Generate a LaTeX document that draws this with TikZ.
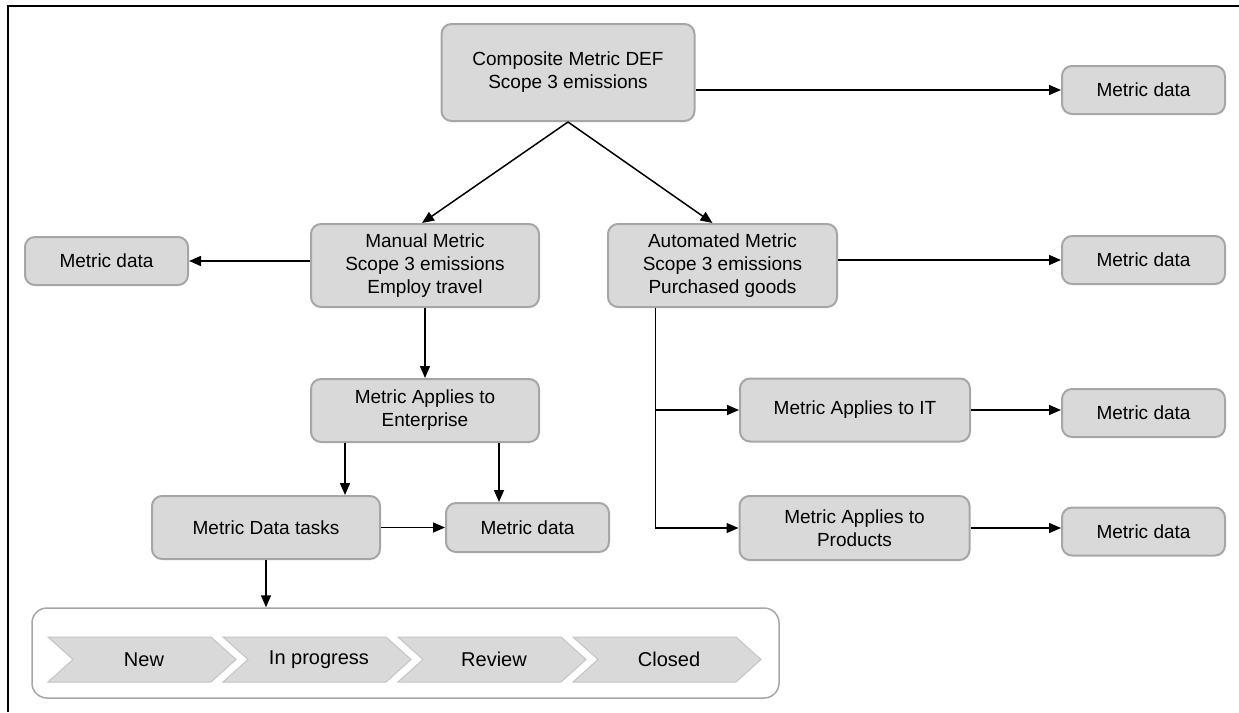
\documentclass[tikz,border=0pt]{standalone}
\usepackage{fontspec}
\setmainfont{Liberation Sans}
\usetikzlibrary{arrows.meta,calc}
\definecolor{boxfill}{HTML}{D9D9D9}
\definecolor{boxline}{HTML}{A6A6A6}
\definecolor{chevline}{HTML}{C4C4C4}
\begin{document}
\begin{tikzpicture}[x=1pt,y=-1pt,
  box/.style={draw=boxline,fill=boxfill,line width=2pt,rounded corners=10pt,
    inner sep=0pt,align=center,font=\fontsize{19}{23}\selectfont},
  arr/.style={line width=1.5pt,-{Triangle[length=12pt,width=10pt]}},
  plain/.style={line width=1.5pt},
  chev/.style={draw=chevline,fill=boxfill,line width=1pt},
  chevtext/.style={font=\fontsize{20}{24}\selectfont,inner sep=0pt}]
\useasboundingbox (0,0) rectangle (1239,712);
% frame
\draw[line width=1.5pt] (8,712) -- (8,6) -- (1239,6);

\node[box,minimum width=253pt,minimum height=97pt] (comp) at (568,72.5) {Composite Metric DEF\\Scope 3 emissions};
\node[box,minimum width=163pt,minimum height=48pt] (md1) at (1143.5,90) {Metric data};
\node[box,minimum width=228pt,minimum height=83pt] (manual) at (425,265.5) {Manual Metric\\Scope 3 emissions\\Employ travel};
\node[box,minimum width=229pt,minimum height=83pt] (auto) at (722.5,265.5) {Automated Metric\\Scope 3 emissions\\Purchased goods};
\node[box,minimum width=163pt,minimum height=48pt] (mdL) at (106.5,261) {Metric data};
\node[box,minimum width=163pt,minimum height=48pt] (md2) at (1143.5,260) {Metric data};
\node[box,minimum width=228pt,minimum height=63pt] (ent) at (425,410.5) {Metric Applies to\\Enterprise};
\node[box,minimum width=228pt,minimum height=63pt] (tasks) at (266,527.5) {Metric Data tasks};
\node[box,minimum width=163pt,minimum height=49pt] (mdM) at (527.5,527.5) {Metric data};
\node[box,minimum width=230pt,minimum height=63pt] (it) at (855,410) {Metric Applies to IT};
\node[box,minimum width=163pt,minimum height=48pt] (mdIT) at (1143.5,413) {Metric data};
\node[box,minimum width=230pt,minimum height=64pt] (prod) at (854.5,528) {Metric Applies to\\Products};
\node[box,minimum width=163pt,minimum height=48pt] (mdP) at (1143.5,531.5) {Metric data};

% workflow container
\node[draw=boxline,fill=white,line width=1.5pt,rounded corners=15pt,minimum width=747pt,minimum height=90pt,inner sep=0pt] (flow) at (405.5,653) {};

% chevrons
\foreach \l/\r/\t/\n in {48/236/New/c1, 223/411/In progress/c2, 398/586/Review/c3, 573/761/Closed/c4}{
  \draw[chev] (\l,637) -- (\r-25,637) -- (\r,659.5) -- (\r-25,682) -- (\l,682) -- (\l+25,659.5) -- cycle;
  \node[chevtext] (\n) at ({(\l+\r)/2+2},659.5) {\t};
}

% connectors
\draw[arr] (comp.east |- md1.west) -- (md1.west);
\draw[arr] (comp.south) -- ([xshift=-3pt]manual.north);
\draw[arr] (comp.south) -- ([xshift=-10pt]auto.north);
\draw[arr] (manual.west |- mdL.east) -- (mdL.east);
\draw[arr] (auto.east |- md2.west) -- (md2.west);
\draw[arr] (manual.south) -- (ent.north);
\coordinate (e1) at ([xshift=35pt]ent.south west);
\coordinate (e2) at ([xshift=-41pt]ent.south east);
\draw[arr] (e1) -- (e1 |- tasks.north);
\draw[arr] (e2) -- (e2 |- mdM.north);
\draw[arr] (tasks.east) -- (mdM.west);
\draw[arr] (tasks.south) -- (tasks.south |- flow.north);
\coordinate (t0) at ([xshift=48.5pt]auto.south west);
\draw[arr] (t0) |- (it.west);
\draw[arr] (t0) |- (prod.west);
\draw[arr] (it.east) -- (it.east -| mdIT.west);
\draw[arr] (prod.east) -- (prod.east -| mdP.west);
\end{tikzpicture}
\end{document}
